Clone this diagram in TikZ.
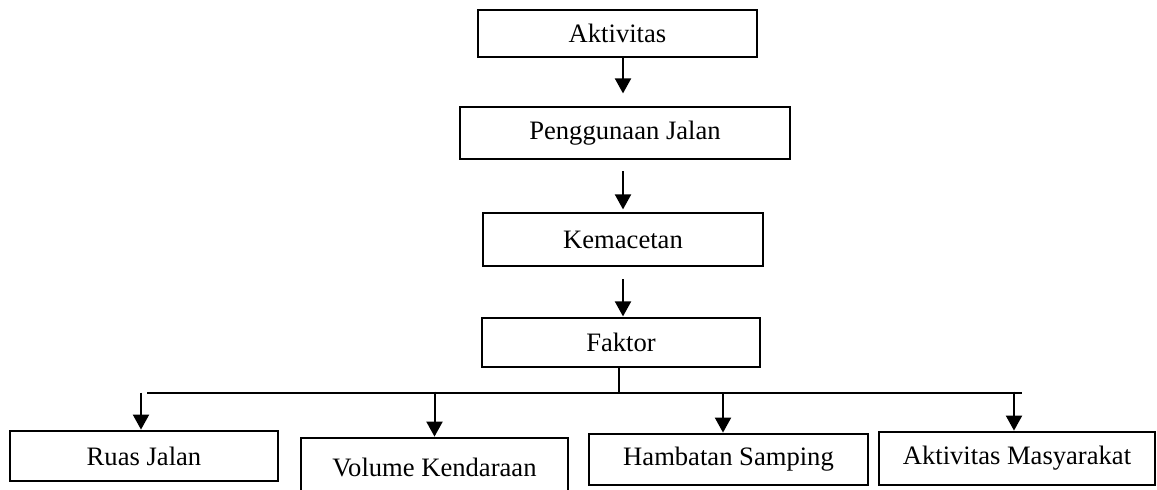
\documentclass[tikz,border=0pt]{standalone}
\usepackage{fontspec}
\setmainfont{Liberation Serif}
\usetikzlibrary{arrows.meta}
\begin{document}
\begin{tikzpicture}[x=0.5pt,y=-0.5pt,
  box/.style={draw,line width=1.4pt,inner sep=0pt,font=\fontsize{13.3}{15}\selectfont},
  arr/.style={line width=1pt,-{Triangle[width=8pt,length=7.5pt]}},
  ln/.style={line width=1pt}]
\useasboundingbox (0,0) rectangle (1157,489);
\clip (0,0) rectangle (1157,489);
\node[box,minimum width=139.5pt,minimum height=23.5pt] (akt) at (617.5,33.5) {Aktivitas};
\node[box,minimum width=165pt,minimum height=26pt] (peng) at (625,133) {Penggunaan Jalan};
\node[box,minimum width=140pt,minimum height=26.5pt] (kem) at (623,239.5) {Kemacetan};
\node[box,minimum width=139pt,minimum height=24.5pt] (fak) at (621,342.5) {Faktor};
\node[box,minimum width=134pt,minimum height=25pt] (ruas) at (144,456) {Ruas Jalan};
\node[box,minimum width=133.5pt,minimum height=29pt] (vol) at (434.5,467) {Volume Kendaraan};
\node[box,minimum width=139.5pt,minimum height=25.5pt] (hamb) at (728.5,459.5) {Hambatan Samping};
\node[box,minimum width=138pt,minimum height=26.5pt] (am) at (1017,458.5) {Aktivitas Masyarakat};
\coordinate (hl) at (147,393);
\coordinate (hr) at (1022,393);
\draw[arr] ([xshift=2.75pt]akt.south) -- ++(0,35);
\draw[arr] ([xshift=-1pt,yshift=-5.5pt]peng.south) -- ++(0,38);
\draw[arr] ([yshift=-6pt]kem.south) -- ++(0,37);
\draw[ln] (hl) -- (hr);
\draw[ln] ([xshift=-1pt]fak.south) -- ++(0,26);
\draw[arr] ([xshift=-1.5pt]ruas.north) ++(0,-37) -- ([xshift=-1.5pt]ruas.north);
\draw[arr] (vol.north) ++(0,-45) -- (vol.north);
\draw[arr] ([xshift=-2.75pt]hamb.north) ++(0,-40) -- ([xshift=-2.75pt]hamb.north);
\draw[arr] ([xshift=-1.5pt]am.north) ++(0,-39) -- ([xshift=-1.5pt]am.north);
\end{tikzpicture}
\end{document}
